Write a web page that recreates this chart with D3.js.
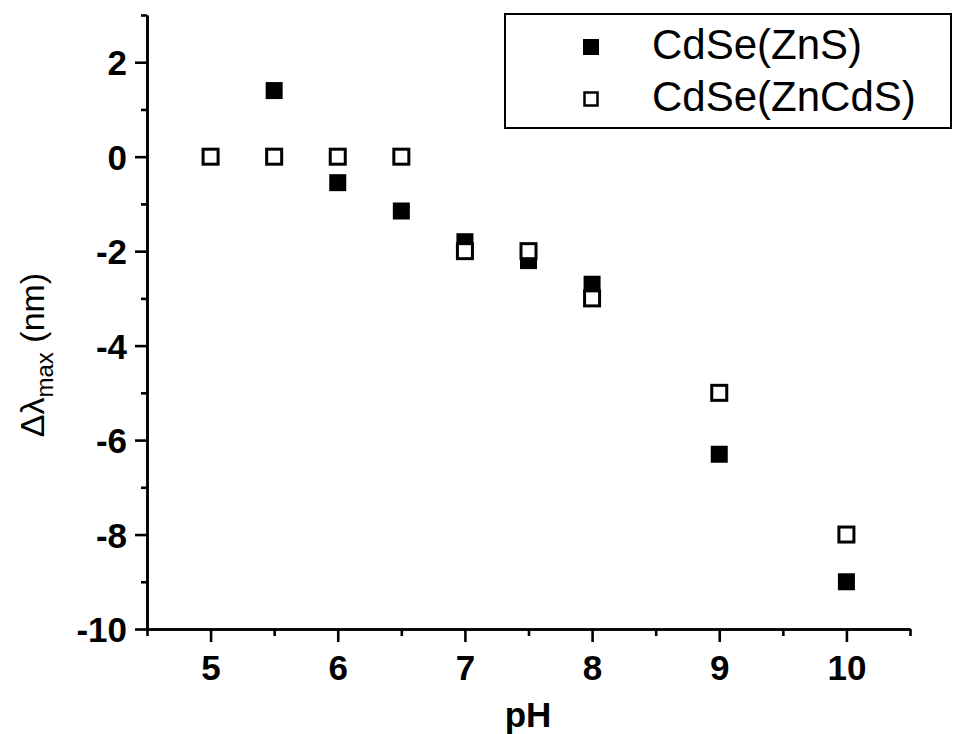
<!DOCTYPE html>
<html>
<head>
<meta charset="utf-8">
<script src="https://cdn.jsdelivr.net/npm/d3@7"></script>
<style>
  html, body { margin: 0; padding: 0; background: #fff; }
  svg { display: block; }
  text { font-family: "Liberation Sans", Arial, Helvetica, sans-serif; fill: #000; }
</style>
</head>
<body>
<svg id="chart" width="953" height="734"></svg>
<script>
// ---- data ----
const pHZnS = [5.5, 6, 6.5, 7, 7.5, 8, 9, 10];
const shiftZnS = [1.4, -0.55, -1.15, -1.8, -2.2, -2.7, -6.3, -9.0];
const pHZnCdS = [5, 5.5, 6, 6.5, 7, 7.5, 8, 9, 10];
const shiftZnCdS = [0, 0, 0, 0, -2.0, -2.0, -3.0, -5.0, -8.0];
const xTicks = [5, 6, 7, 8, 9, 10];
const xMinorTicks = [4.5, 5.5, 6.5, 7.5, 8.5, 9.5, 10.5];
const yTicks = [2, 0, -2, -4, -6, -8, -10];
const yMinorTicks = [3, 1, -1, -3, -5, -7, -9];
const seriesNames = ["CdSe(ZnS)", "CdSe(ZnCdS)"];
const xTitle = "pH";

const svg = d3.select("#chart");
const x = d3.scaleLinear().domain([4.5, 10.5]).range([147, 910]);
const y = d3.scaleLinear().domain([-10, 3]).range([629, 15]);
const fmt = d => String(d);

// axes
const axisStroke = 2.6;
const gx = svg.append("g").attr("transform", `translate(0,${y(-10)})`);
gx.call(d3.axisBottom(x).tickValues(xMinorTicks).tickSize(7).tickSizeOuter(0).tickFormat(""));
gx.call(g => g.append("g").call(d3.axisBottom(x).tickValues(xTicks).tickSize(13).tickSizeOuter(0).tickFormat(fmt)));
gx.selectAll("path.domain").attr("stroke", "#000").attr("stroke-width", axisStroke);
gx.selectAll(".tick line").attr("stroke", "#000").attr("stroke-width", axisStroke);
gx.selectAll(".tick text").attr("font-size", 35).attr("font-weight", "bold").attr("dy", 0).attr("y", 51)
  .style("font-family", '"Liberation Sans", Arial, sans-serif');

const gy = svg.append("g").attr("transform", `translate(${x(4.5)},0)`);
gy.call(d3.axisLeft(y).tickValues(yMinorTicks).tickSize(6).tickSizeOuter(0).tickFormat(""));
gy.call(g => g.append("g").call(d3.axisLeft(y).tickValues(yTicks).tickSize(12).tickSizeOuter(0).tickFormat(fmt)));
gy.selectAll("path.domain").attr("stroke", "#000").attr("stroke-width", axisStroke);
gy.selectAll(".tick line").attr("stroke", "#000").attr("stroke-width", axisStroke);
gy.selectAll(".tick text").attr("font-size", 35).attr("font-weight", "bold").attr("x", -20).attr("dy", "0.36em")
  .style("font-family", '"Liberation Sans", Arial, sans-serif');

// axis titles
svg.append("text").attr("x", 528).attr("y", 727).attr("text-anchor", "middle")
  .attr("font-size", 35).attr("font-weight", "bold").text(xTitle);

const yt = svg.append("text").attr("transform", "translate(44,355) rotate(-90)")
  .attr("text-anchor", "middle").attr("font-size", 34);
yt.append("tspan").text("Δλ");
yt.append("tspan").attr("font-size", 24).attr("dy", 9).text("max");
yt.append("tspan").attr("dy", -9).text(" (nm)");

// markers
const zns = pHZnS.map((p, i) => ({ p, v: shiftZnS[i] }));
const zncds = pHZnCdS.map((p, i) => ({ p, v: shiftZnCdS[i] }));
const fs = 17, hs = 15;
svg.append("g").selectAll("rect").data(zns).join("rect")
  .attr("x", d => x(d.p) - fs / 2).attr("y", d => y(d.v) - fs / 2)
  .attr("width", fs).attr("height", fs).attr("fill", "#000");
svg.append("g").selectAll("rect").data(zncds).join("rect")
  .attr("x", d => x(d.p) - hs / 2).attr("y", d => y(d.v) - hs / 2)
  .attr("width", hs).attr("height", hs).attr("fill", "#fff")
  .attr("stroke", "#000").attr("stroke-width", 3);

// legend
const lg = svg.append("g");
lg.append("rect").attr("x", 505).attr("y", 14).attr("width", 446).attr("height", 114)
  .attr("fill", "#fff").attr("stroke", "#000").attr("stroke-width", 2);
lg.append("rect").attr("x", 583).attr("y", 39).attr("width", 16).attr("height", 16).attr("fill", "#000");
lg.append("rect").attr("x", 584.5).attr("y", 92.5).attr("width", 13).attr("height", 13)
  .attr("fill", "#fff").attr("stroke", "#000").attr("stroke-width", 2.5);
lg.append("text").attr("x", 652).attr("y", 59).attr("font-size", 42).text(seriesNames[0]);
lg.append("text").attr("x", 652).attr("y", 111).attr("font-size", 42).text(seriesNames[1]);
</script>
</body>
</html>
